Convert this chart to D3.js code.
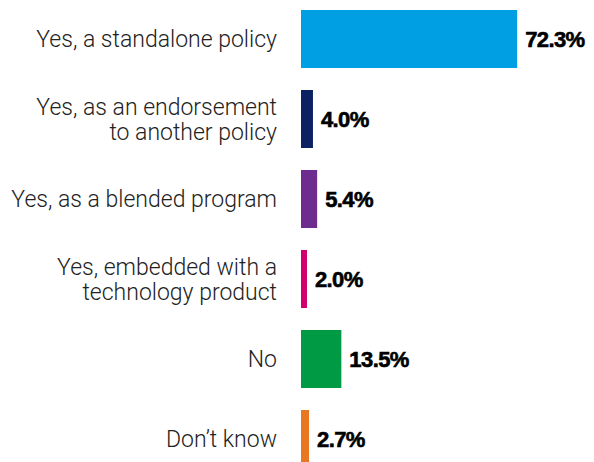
<!DOCTYPE html>
<html>
<head>
<meta charset="utf-8">
<script src="https://cdn.jsdelivr.net/npm/d3@7.9.0/dist/d3.min.js"></script>
<style>
  body { margin: 0; background: #fff; }
  svg { display: block; }
</style>
</head>
<body>
<svg width="594" height="462"></svg>
<script>
// data
const categories = [
  'Yes, a standalone policy',
  'Yes, as an endorsement\nto another policy',
  'Yes, as a blended program',
  'Yes, embedded with a\ntechnology product',
  'No',
  'Don\u2019t know'
];
const values = [72.3, 4.0, 5.4, 2.0, 13.5, 2.7];
const colors = ['#009ee3', '#0b2161', '#6f2c8f', '#d1006e', '#009a44', '#e87722'];

let svg = d3.select('svg');

let x = d3.scaleLinear().domain([0, 100]).range([301, 600]);
let y = d3.scaleBand().domain(categories).range([10, 468]).paddingInner(0.275);

let data = categories.map((c, i) => ({ label: c, value: values[i], color: colors[i] }));

// bars
svg.selectAll('rect')
  .data(data)
  .join('rect')
  .attr('x', x(0))
  .attr('y', d => y(d.label))
  .attr('width', d => x(d.value) - x(0))
  .attr('height', y.bandwidth())
  .attr('fill', d => d.color);

// value labels (heavy weight, so a thin stroke thickens the bold face)
svg.selectAll('text.val')
  .data(data)
  .join('text')
  .attr('class', 'val')
  .attr('x', d => x(d.value) + 8)
  .attr('y', d => y(d.label) + y.bandwidth() / 2)
  .attr('dy', '0.36em')
  .attr('font-family', '"Liberation Sans", Arial, sans-serif')
  .attr('font-weight', 700)
  .attr('font-size', 22)
  .attr('letter-spacing', '-0.6px')
  .attr('fill', '#000')
  .attr('stroke', '#000')
  .attr('stroke-width', 0.6)
  .text(d => d.value.toFixed(1) + '%');

// category labels, right aligned, may wrap on two lines
let lineH = 25;
svg.selectAll('text.cat')
  .data(data)
  .join('text')
  .attr('class', 'cat')
  .attr('text-anchor', 'end')
  .attr('font-family', 'Roboto, sans-serif')
  .attr('font-weight', 300)
  .attr('font-size', 23)
  .attr('fill', '#222')
  .each(function (d) {
    let lines = d.label.split('\n');
    let cy = y(d.label) + y.bandwidth() / 2;
    let t = d3.select(this);
    lines.forEach((l, i) => {
      t.append('tspan')
        .attr('x', 277)
        .attr('y', cy + (i - (lines.length - 1) / 2) * lineH)
        .attr('dy', '0.35em')
        .text(l);
    });
  });
</script>
</body>
</html>
